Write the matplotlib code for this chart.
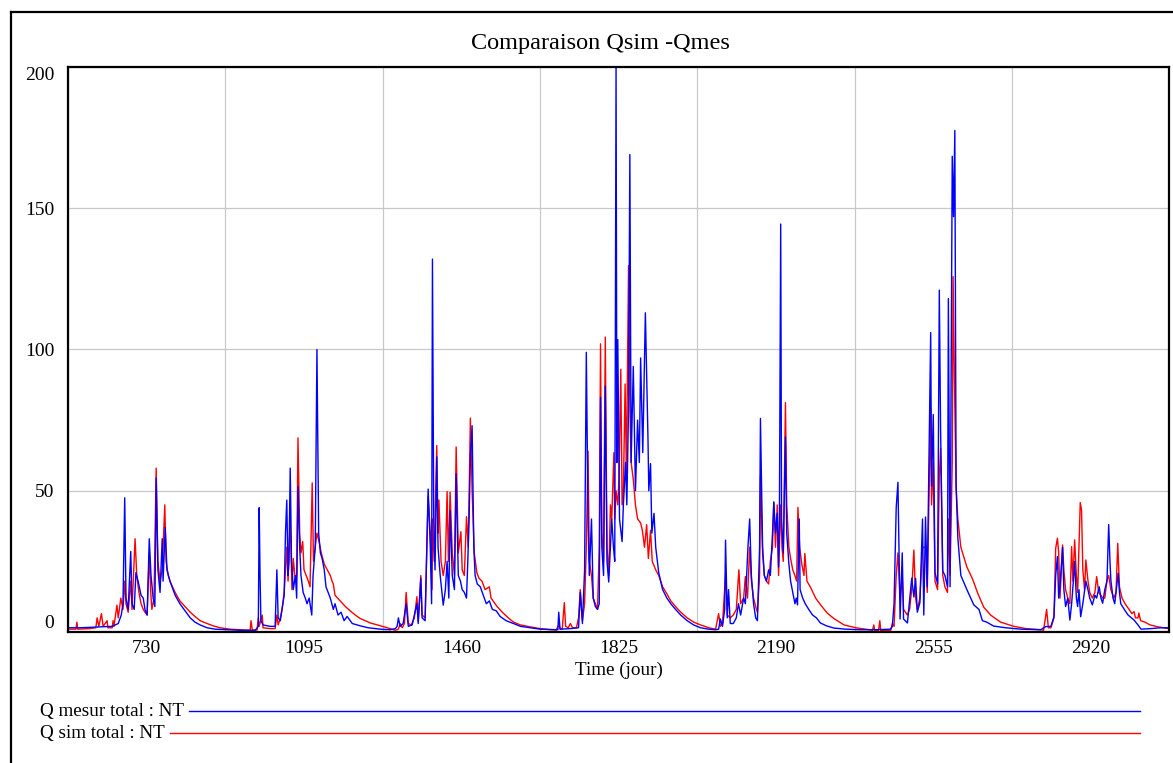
import matplotlib
matplotlib.use("Agg")
import matplotlib.pyplot as plt
from matplotlib.lines import Line2D

plt.rcParams['font.family'] = ['Liberation Serif', 'DejaVu Serif']

# Q mesur total : NT  (day)
t_mes = [548, 576, 622, 650, 664, 671, 675, 679, 682, 687, 693, 696, 701, 705, 710, 717, 722, 726, 731, 736,
         740, 745, 749, 752, 756, 761, 766, 768, 773, 777, 784, 796, 807, 819, 831, 842, 854, 870, 889, 947,
         982, 989, 991, 993, 995, 1000, 1016, 1028, 1032, 1035, 1040, 1044, 1049, 1052, 1055, 1058, 1060, 1063, 1066, 1070,
         1075, 1078, 1081, 1085, 1088, 1093, 1098, 1102, 1107, 1113, 1116, 1121, 1125, 1129, 1133, 1137, 1142, 1146, 1151, 1156,
         1163, 1167, 1174, 1181, 1188, 1195, 1207, 1225, 1244, 1272, 1295, 1307, 1311, 1314, 1318, 1325, 1332, 1337, 1346, 1351,
         1357, 1360, 1366, 1369, 1376, 1383, 1388, 1391, 1393, 1396, 1399, 1403, 1406, 1411, 1418, 1423, 1427, 1431, 1434, 1439,
         1444, 1448, 1453, 1458, 1462, 1467, 1472, 1475, 1478, 1481, 1485, 1489, 1492, 1497, 1504, 1511, 1518, 1525, 1532, 1541,
         1550, 1564, 1581, 1597, 1620, 1643, 1678, 1684, 1686, 1689, 1713, 1732, 1736, 1741, 1746, 1750, 1754, 1757, 1762, 1766,
         1771, 1776, 1780, 1783, 1786, 1790, 1794, 1798, 1802, 1806, 1809, 1813, 1816, 1819, 1821, 1823, 1827, 1833, 1836, 1841,
         1844, 1848, 1851, 1854, 1859, 1864, 1869, 1873, 1876, 1881, 1887, 1893, 1895, 1899, 1902, 1907, 1911, 1918, 1927, 1937,
         1946, 1957, 1969, 1984, 1999, 2015, 2034, 2050, 2057, 2061, 2066, 2071, 2073, 2077, 2080, 2084, 2091, 2098, 2103, 2108,
         2115, 2119, 2125, 2129, 2133, 2138, 2143, 2147, 2152, 2154, 2159, 2163, 2168, 2173, 2177, 2182, 2185, 2189, 2193, 2196,
         2198, 2201, 2203, 2207, 2212, 2215, 2220, 2224, 2229, 2234, 2237, 2240, 2244, 2246, 2252, 2258, 2266, 2275, 2284, 2293,
         2307, 2324, 2352, 2386, 2421, 2451, 2456, 2460, 2464, 2469, 2473, 2478, 2483, 2486, 2495, 2505, 2510, 2514, 2518, 2524,
         2530, 2533, 2537, 2541, 2549, 2551, 2555, 2559, 2565, 2569, 2572, 2577, 2582, 2588, 2590, 2594, 2599, 2602, 2605, 2608,
         2612, 2619, 2633, 2649, 2661, 2669, 2679, 2695, 2723, 2758, 2804, 2816, 2828, 2835, 2839, 2843, 2846, 2849, 2855, 2858,
         2862, 2867, 2872, 2876, 2880, 2883, 2887, 2890, 2893, 2897, 2902, 2909, 2914, 2918, 2924, 2930, 2934, 2940, 2944, 2948,
         2953, 2958, 2962, 2965, 2967, 2972, 2976, 2984, 2987, 2990, 2999, 3007, 3021, 3030, 3037, 3060, 3083, 3104]
q_mes = [1.5, 1.5, 1.8, 2.0, 3.0, 6, 10, 47.5, 12, 8, 28.5, 10, 8, 21, 18, 13, 12, 8, 6, 33,
         20, 12, 9, 54.5, 22, 14, 33, 18, 37, 22, 18, 13, 10, 7.5, 5, 3.5, 2.5, 1.5, 1.0, 0.6,
         0.6, 2, 44, 20, 4, 2.5, 2, 2, 22, 5, 4, 8, 13, 35, 46.7, 20, 25, 58, 25, 15,
         20, 12, 51.5, 30, 20, 14, 12, 10, 12, 6, 20, 30, 100, 35, 28, 26, 22, 16, 14, 12,
         8, 10, 6, 7, 4, 5.5, 3, 2.2, 1.5, 1.0, 0.8, 1.2, 2, 5, 2, 3, 10, 2, 2.5, 6,
         10, 3, 19, 5, 4, 50.6, 30, 10, 132, 40, 22, 62, 30, 20, 9.5, 15, 25, 12, 43, 20,
         15, 56, 20, 18, 15, 14, 12, 25, 40, 62, 73, 30, 20, 17, 16, 13, 10, 11, 8, 7.5,
         5.5, 4, 3, 2, 1.5, 1, 0.8, 0.8, 7, 1.0, 1.2, 1.5, 14, 3, 22, 99, 40, 20, 40, 12,
         9, 8, 10, 83, 30, 20, 87, 25, 17.7, 30, 40, 30, 25, 200, 60, 103.5, 40, 32, 45, 60,
         45, 80, 169, 60, 94, 50, 75, 60, 97, 63.5, 113, 69, 50, 59.6, 35, 42, 30, 21, 15, 12,
         10, 8, 6, 4, 2.5, 1.5, 1.0, 0.8, 1.0, 4.6, 2, 8, 32.5, 5, 15, 3, 3, 5, 10, 6,
         12, 10, 30, 40, 20, 10, 5, 4, 30, 75.6, 30, 20, 18, 22, 20, 35, 46, 35, 42, 23,
         40, 144.4, 40, 28, 69, 35, 24, 18, 14, 10, 12, 9.6, 40, 15, 12, 10, 8, 6, 5, 3.2,
         2.2, 1.4, 1.0, 0.8, 0.8, 1.0, 1.0, 2, 10, 44, 53, 4.6, 28, 4.6, 3.2, 19, 12.4, 19, 7, 10.4,
         40, 6, 40.7, 16, 106, 51.7, 77, 21, 17, 121, 71.5, 21.6, 20, 16, 118, 16, 168.4, 147, 177.5, 51.7,
         33.3, 20, 15, 9.6, 8, 4, 3.5, 2.1, 1.5, 1.0, 0.8, 1.9, 2, 5.4, 20, 26.7, 12, 16, 30, 15,
         9, 12, 4.2, 10, 18, 25, 12, 9, 15, 5.4, 10, 18, 14.9, 12, 9.6, 13, 12, 16, 12, 10.2,
         15, 18, 38, 25, 18.4, 12, 10, 20.8, 14, 10, 7.8, 6, 4.2, 2.5, 1, 1.2, 1.5, 1.5]

# Q sim total : NT
t_sim = [548, 566, 568, 570, 598, 612, 615, 619, 625, 629, 638, 640, 650, 652, 654, 661, 664, 670, 675, 679,
         682, 687, 693, 696, 703, 707, 712, 717, 722, 726, 731, 736, 739, 742, 747, 752, 756, 761, 766, 772,
         775, 780, 784, 796, 807, 819, 831, 842, 854, 870, 884, 900, 923, 958, 970, 972, 975, 986, 989, 991,
         998, 1000, 1016, 1028, 1032, 1035, 1040, 1044, 1049, 1055, 1058, 1063, 1067, 1070, 1075, 1078, 1081, 1085, 1088, 1092,
         1095, 1100, 1105, 1109, 1114, 1117, 1121, 1125, 1130, 1135, 1142, 1149, 1156, 1160, 1163, 1167, 1179, 1191, 1202, 1214,
         1225, 1249, 1272, 1295, 1307, 1314, 1318, 1323, 1328, 1332, 1337, 1344, 1351, 1357, 1360, 1366, 1369, 1376, 1383, 1388,
         1392, 1393, 1397, 1403, 1406, 1408, 1413, 1418, 1423, 1427, 1430, 1434, 1439, 1444, 1448, 1453, 1459, 1462, 1467, 1472,
         1476, 1481, 1485, 1490, 1496, 1501, 1508, 1515, 1525, 1529, 1543, 1555, 1569, 1581, 1597, 1620, 1643, 1667, 1680, 1686,
         1690, 1694, 1699, 1702, 1708, 1713, 1718, 1727, 1732, 1736, 1741, 1746, 1750, 1754, 1757, 1762, 1766, 1771, 1776, 1780,
         1783, 1786, 1790, 1794, 1798, 1802, 1806, 1809, 1814, 1816, 1819, 1823, 1826, 1830, 1833, 1836, 1840, 1843, 1848, 1851,
         1854, 1859, 1864, 1869, 1876, 1880, 1885, 1890, 1894, 1899, 1903, 1911, 1918, 1927, 1937, 1946, 1957, 1969, 1984, 1999,
         2015, 2034, 2050, 2057, 2061, 2066, 2073, 2077, 2084, 2091, 2098, 2104, 2108, 2115, 2119, 2124, 2129, 2133, 2138, 2143,
         2147, 2152, 2154, 2159, 2163, 2168, 2173, 2177, 2182, 2185, 2189, 2193, 2196, 2201, 2204, 2207, 2212, 2215, 2220, 2224,
         2229, 2234, 2238, 2241, 2245, 2250, 2255, 2257, 2262, 2271, 2282, 2294, 2309, 2324, 2348, 2375, 2398, 2414, 2417, 2419,
         2428, 2431, 2433, 2451, 2456, 2460, 2464, 2469, 2473, 2478, 2483, 2486, 2495, 2500, 2505, 2510, 2514, 2518, 2524, 2530,
         2537, 2541, 2549, 2551, 2555, 2559, 2565, 2569, 2572, 2577, 2582, 2588, 2590, 2594, 2599, 2601, 2604, 2608, 2612, 2619,
         2623, 2633, 2646, 2658, 2672, 2688, 2711, 2742, 2770, 2804, 2811, 2818, 2822, 2828, 2835, 2839, 2843, 2846, 2849, 2855,
         2858, 2862, 2867, 2872, 2876, 2879, 2883, 2887, 2890, 2896, 2899, 2902, 2906, 2909, 2914, 2918, 2924, 2930, 2934, 2939,
         2944, 2948, 2953, 2958, 2962, 2967, 2974, 2979, 2983, 2987, 2993, 3000, 3009, 3016, 3021, 3024, 3030, 3032, 3036, 3046,
         3058, 3077, 3097, 3104]
q_sim = [1.0, 1, 3.5, 1, 1.2, 1.5, 5, 2, 6.5, 2, 4, 1.5, 1.5, 4, 2, 9.5, 5, 12, 8, 18,
         10, 7, 18, 8, 33, 20, 14, 10, 8, 7, 6, 28, 15, 8, 12, 58, 25, 18, 22, 45,
         25, 20, 18, 14, 11, 9, 7, 5.5, 4, 3, 2.2, 1.5, 1.0, 0.7, 0.6, 4, 0.7, 0.7, 5, 2,
         6, 1.5, 1.2, 1.2, 6, 2.5, 5, 8, 14, 30, 18, 40, 15, 26, 18, 20, 68.7, 35, 28, 32,
         22, 20, 18, 16, 52.8, 25, 30, 35, 32, 28, 24, 22, 20, 18, 17, 13, 11, 9, 7.5, 6,
         4.8, 3.2, 2.2, 1.2, 0.6, 1.0, 3, 1.5, 3, 14, 3, 2.5, 5, 12.5, 4, 20, 6, 5, 48, 35,
         15, 40, 25, 66, 35, 46.7, 25, 20, 25, 49.7, 25, 49.5, 28, 20, 65.5, 28, 35.5, 22, 20, 40.8,
         30, 75.7, 50, 28, 21, 19, 18, 15, 16, 12, 9, 7, 5, 3.5, 2.5, 1.8, 1.2, 0.8, 0.7, 2.5,
         1, 1, 10.4, 2, 1.5, 3, 1.5, 1.5, 5, 15, 4, 10, 30, 64, 25, 20, 12, 10, 8, 30,
         102, 35, 25, 104.4, 30, 20, 45, 40, 63.5, 40, 50, 45, 55, 93, 45, 50, 87.8, 55, 129.7, 80,
         60, 54, 45, 40, 38.6, 36, 30, 38, 26, 36, 25, 22, 20, 16, 13.5, 11, 9, 7, 5, 3.5,
         2.5, 1.5, 1.0, 6.5, 2, 3, 20, 6, 5, 6, 8, 22, 10, 12, 19.6, 12, 30, 18, 12, 9,
         7, 20, 55, 28, 20, 18, 17, 25, 30, 46, 30, 45, 20, 45, 30, 25, 81.2, 45, 30, 26,
         22, 20, 18, 44.1, 30, 24, 20, 27.8, 18, 15.6, 12, 9.5, 6.7, 4.8, 2.5, 1.5, 1.0, 0.6, 2.5, 0.6,
         0.6, 4, 0.5, 0.5, 0.5, 3, 2, 20, 28, 12, 20, 8, 6, 8, 15, 29, 12, 8, 12, 30,
         30, 14, 79.3, 45, 60, 18, 15, 55, 65, 20, 16, 14, 40, 20, 60, 125.8, 90, 51, 40, 30,
         28, 23, 18.8, 13.8, 8.8, 6, 3.5, 2, 1.2, 0.8, 0.6, 8, 1.5, 1.5, 5, 29.6, 33.2, 28, 12, 30.8,
         22, 15, 12, 10, 30.2, 18, 32.6, 20, 14, 45.8, 43.2, 22, 15, 25.5, 18, 14, 12, 14, 19.6, 14,
         13, 12, 12, 18.4, 20, 15, 12, 14, 31.4, 16, 12, 10, 8, 6.5, 7.2, 5, 5, 6.7, 4, 3.5,
         2.5, 1.8, 1.3, 1.2]

year_ticks = [730, 1095, 1460, 1825, 2190, 2555, 2920]
half_years = [547.5 + 365 * k for k in range(8)]
q_ticks = [0, 50, 100, 150, 200]

fig = plt.figure(figsize=(11.73, 7.63), dpi=100)
ax = fig.add_axes([0.058, 0.1717, 0.9388, 0.7405])

ax.plot(t_sim, q_sim, color='#ff0000', lw=1.0)
ax.plot(t_mes, q_mes, color='#0000ff', lw=1.0)

ax.set_xlim(547.5, 3102.5)
ax.set_ylim(0, 200)
ax.set_xticks(year_ticks)
ax.set_xticks(half_years, minor=True)
ax.set_yticks(q_ticks)
ax.tick_params(which='both', length=0, labelsize=14, colors='black')
ax.tick_params(axis='x', pad=6)
ax.tick_params(axis='y', pad=10)
ax.grid(which='minor', axis='x', color='#c8c8c8', lw=0.9)
ax.grid(which='major', axis='y', color='#c8c8c8', lw=0.9)
ax.set_axisbelow(True)
ylabs = ax.get_yticklabels()
ylabs[0].set_va('bottom')
ylabs[-1].set_va('top')
for s in ax.spines.values():
    s.set_linewidth(1.6)

ax.set_xlabel('Time (jour)', fontsize=13.8, labelpad=3)
fig.text(0.512, 0.943, 'Comparaison Qsim -Qmes', ha='center', va='center', fontsize=17.5)

# legend below the chart
fig.text(0.034, 0.068, 'Q mesur total : NT', ha='left', va='center', fontsize=13.8)
fig.add_artist(Line2D([0.161, 0.9715], [0.068, 0.068], color='#0000ff', lw=1.0))
fig.text(0.034, 0.039, 'Q sim total : NT', ha='left', va='center', fontsize=13.8)
fig.add_artist(Line2D([0.145, 0.9715], [0.039, 0.039], color='#ff0000', lw=1.0))

# outer frame
fig.add_artist(Line2D([0.0095, 1.0], [0.984, 0.984], color='black', lw=1.6))
fig.add_artist(Line2D([0.0095, 0.0095], [0.0, 0.984], color='black', lw=1.6))

fig.savefig('out.png', dpi=100)
